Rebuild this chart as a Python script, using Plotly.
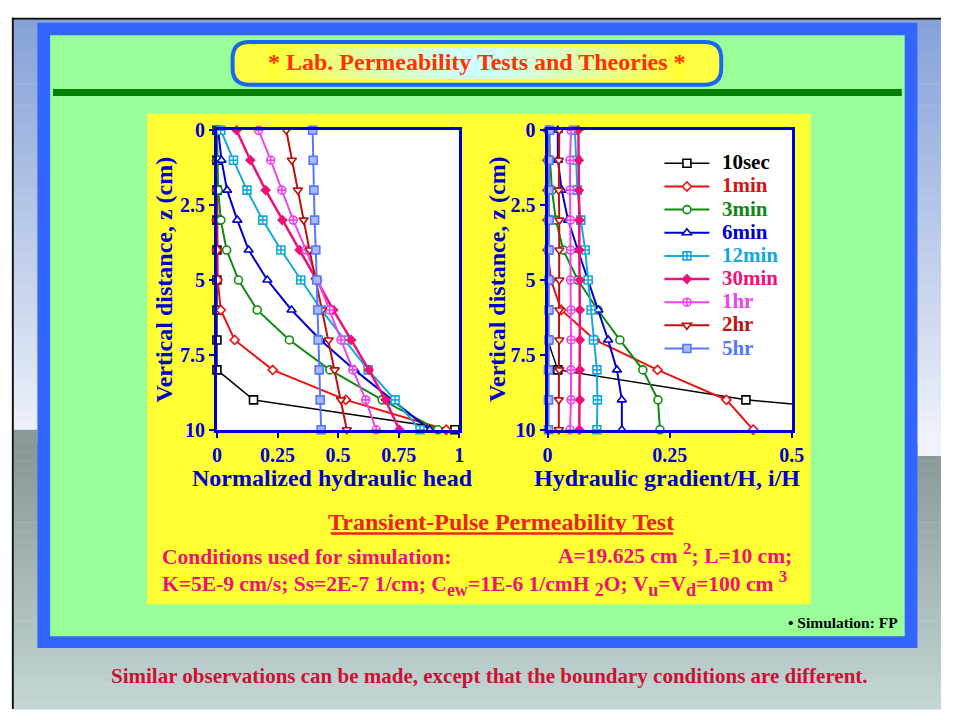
import plotly.graph_objects as go

W, H = 954, 720
SERIF = "Liberation Serif, Times New Roman, serif"

# ---------------- data ----------------
depth_z = [0, 1, 2, 3, 4, 5, 6, 7, 8, 9, 10]
series_names = ["10sec", "1min", "3min", "6min", "12min", "30min", "1hr", "2hr", "5hr"]

head_10sec = [0, 0, 0, 0, 0, 0, 0, 0, 0, 0.151, 0.982]
head_1min = [0, 0, 0, 0, 0, 0.003, 0.016, 0.073, 0.23, 0.532, 0.946]
head_3min = [0, 0.002, 0.005, 0.016, 0.04, 0.089, 0.166, 0.299, 0.466, 0.682, 0.912]
head_6min = [0.005, 0.019, 0.042, 0.084, 0.131, 0.208, 0.308, 0.427, 0.568, 0.722, 0.878]
head_12min = [0.016, 0.068, 0.124, 0.189, 0.264, 0.346, 0.431, 0.527, 0.624, 0.735, 0.838]
head_30min = [0.081, 0.138, 0.201, 0.27, 0.341, 0.412, 0.48, 0.554, 0.627, 0.695, 0.753]
head_1hr = [0.172, 0.222, 0.268, 0.315, 0.368, 0.415, 0.465, 0.512, 0.561, 0.614, 0.657]
head_2hr = [0.286, 0.309, 0.334, 0.358, 0.382, 0.408, 0.434, 0.461, 0.486, 0.512, 0.536]
head_5hr = [0.395, 0.397, 0.400, 0.403, 0.408, 0.412, 0.416, 0.418, 0.422, 0.426, 0.430]

grad_10sec = [0, 0, 0, 0, 0, 0, 0, 0, 0.021, 0.406, 1.07]
grad_1min = [0, 0, 0, 0, 0, 0.007, 0.028, 0.097, 0.225, 0.366, 0.421]
grad_3min = [0.003, 0.005, 0.009, 0.017, 0.032, 0.062, 0.103, 0.148, 0.195, 0.226, 0.230]
grad_6min = [0.021, 0.021, 0.029, 0.042, 0.062, 0.083, 0.104, 0.124, 0.142, 0.152, 0.152]
grad_12min = [0.056, 0.059, 0.061, 0.068, 0.077, 0.083, 0.089, 0.094, 0.101, 0.102, 0.101]
grad_30min = [0.063, 0.064, 0.064, 0.065, 0.065, 0.066, 0.066, 0.066, 0.066, 0.066, 0.065]
grad_1hr = [0.048, 0.046, 0.046, 0.047, 0.047, 0.047, 0.048, 0.048, 0.048, 0.048, 0.046]
grad_2hr = [0.024, 0.023, 0.023, 0.024, 0.024, 0.024, 0.024, 0.024, 0.024, 0.023, 0.023]
grad_5hr = [0.004, 0.003, 0.003, 0.003, 0.003, 0.003, 0.003, 0.003, 0.002, 0.002, 0.002]

head_series = [head_10sec, head_1min, head_3min, head_6min, head_12min,
               head_30min, head_1hr, head_2hr, head_5hr]
grad_series = [grad_10sec, grad_1min, grad_3min, grad_6min, grad_12min,
               grad_30min, grad_1hr, grad_2hr, grad_5hr]

head_ticks = [0, 0.25, 0.5, 0.75, 1]
head_ticklabels = ["0", "0.25", "0.5", "0.75", "1"]
grad_ticks = [0, 0.25, 0.5]
grad_ticklabels = ["0", "0.25", "0.5"]
z_ticks = [0, 2.5, 5, 7.5, 10]
z_ticklabels = ["0", "2.5", "5", "7.5", "10"]

# ---------------- styles ----------------
line_colors = ["#000000", "#ee1111", "#108a10", "#0000cc", "#16a8dc",
               "#ee1177", "#ee44ee", "#bb1111", "#5577ff"]
text_colors = ["#000000", "#dd1111", "#118811", "#0000cc", "#16a8dc",
               "#ee1177", "#ee44ee", "#bb1111", "#5577ff"]
symbols = ["square", "diamond", "circle", "triangle-up", "square-cross",
           "diamond", "circle-cross", "triangle-down", "square"]
fills = ["white", "white", "white", "white", "white",
         "#ee1177", "white", "white", "#a9b9ff"]
msizes = [8, 7, 8, 8, 8, 6.5, 8, 8, 8]
widths = [1.5, 2, 2, 2, 2, 2.5, 2, 2, 2]


def X(p):
    return p / W


def Y(p):
    return 1 - p / H


def hexrgb(h):
    h = h.lstrip("#")
    return tuple(int(h[i:i + 2], 16) for i in (0, 2, 4))


def mix(c1, c2, t):
    a, b = hexrgb(c1), hexrgb(c2)
    return "rgb(%d,%d,%d)" % tuple(round(a[i] + (b[i] - a[i]) * t) for i in range(3))


def rect(x0, y0, x1, y1, color, line_color=None, lw=0):
    return dict(type="rect", xref="paper", yref="paper", layer="below",
                x0=X(x0), x1=X(x1), y0=Y(y1), y1=Y(y0),
                fillcolor=color, line=dict(width=lw, color=line_color or color))


shapes = []
# slide background gradients
n = 40
for i in range(n):
    y0 = 9 + (445 - 9) * i / n
    y1 = 9 + (445 - 9) * (i + 1) / n + 0.5
    shapes.append(rect(9, y0, W, y1, mix("#86a2d8", "#eef2fa", i / (n - 1))))
n = 30
for i in range(n):
    y0 = 445 + (H - 445) * i / n
    y1 = 445 + (H - 445) * (i + 1) / n + 0.5
    shapes.append(rect(9, y0, W, y1, mix("#889898", "#c2d6d6", i / (n - 1))))
shapes.append(rect(9, 432, 33, 446, "#8a9a9a"))
shapes.append(rect(930, 444, W, 459, "#eef2fa"))
shapes.append(rect(7, 7, W, 9, "#111111"))
shapes.append(rect(7, 7, 9, H, "#111111"))
# frames
shapes.append(rect(33, 12, 930, 657, "#3366ff"))
shapes.append(rect(46, 25, 917, 645, "#99ff99"))
shapes.append(dict(type="line", xref="paper", yref="paper", layer="below",
                   x0=X(49), x1=X(914), y0=Y(84), y1=Y(84),
                   line=dict(color="#008000", width=7)))
# banner
bx0, by0, bx1, by1, r = 232, 32, 730, 76, 17
pts = lambda x, y: "%.5f,%.5f" % (X(x), Y(y))
path = ("M" + pts(bx0 + r, by0) + " L" + pts(bx1 - r, by0) +
        " Q" + pts(bx1, by0) + " " + pts(bx1, by0 + r) +
        " L" + pts(bx1, by1 - r) + " Q" + pts(bx1, by1) + " " + pts(bx1 - r, by1) +
        " L" + pts(bx0 + r, by1) + " Q" + pts(bx0, by1) + " " + pts(bx0, by1 - r) +
        " L" + pts(bx0, by0 + r) + " Q" + pts(bx0, by0) + " " + pts(bx0 + r, by0) + " Z")
shapes.append(dict(type="path", xref="paper", yref="paper", layer="below", path=path,
                   fillcolor="#ffff44", line=dict(color="#1a66ee", width=4)))
n = 50
gx0, gx1 = 268, 694
for i in range(n):
    t = i / (n - 1)
    d = abs(t - 0.5) * 2  # 0 center, 1 edge
    c = mix("#ccffff", "#ffff33", min(1, d ** 1.3))
    xa = gx0 + (gx1 - gx0) * i / n
    xb = gx0 + (gx1 - gx0) * (i + 1) / n + 0.5
    shapes.append(rect(xa, 38, xb, 70, c))
# yellow panel and plot backgrounds
shapes.append(rect(145, 106, 821, 612, "#ffff33"))
shapes.append(rect(216, 123, 463, 432, "white"))
shapes.append(rect(553, 123, 802, 432, "white"))
# underline of sub-title
shapes.append(dict(type="line", xref="paper", yref="paper", layer="below",
                   x0=X(332), x1=X(681), y0=Y(539), y1=Y(539),
                   line=dict(color="#ee2222", width=2.5)))

fig = go.Figure()
for i, name in enumerate(series_names):
    marker = dict(symbol=symbols[i], size=msizes[i], color=fills[i],
                  line=dict(color=line_colors[i], width=1.6))
    label = ("<span style='font-size:30px'>\u00a0</span>"
             "<span style='font-size:21px;color:%s'>%s</span>" % (text_colors[i], name))
    fig.add_trace(go.Scatter(x=head_series[i], y=depth_z, mode="lines+markers",
                             name=label, line=dict(color=line_colors[i], width=widths[i]),
                             marker=marker, cliponaxis=False, xaxis="x", yaxis="y",
                             legendgroup=name))
    fig.add_trace(go.Scatter(x=grad_series[i], y=depth_z, mode="lines+markers",
                             name=label, line=dict(color=line_colors[i], width=widths[i]),
                             marker=marker, cliponaxis=(i == 0), xaxis="x2", yaxis="y2",
                             legendgroup=name, showlegend=False))

axis_blue = "#0000cc"
tickfont = dict(family=SERIF, size=20, color=axis_blue, weight="bold")
common = dict(showline=True, mirror=True, linecolor=axis_blue, linewidth=3,
              showgrid=False, zeroline=False, ticks="outside", ticklen=5,
              tickwidth=1.5, tickcolor=axis_blue, tickfont=tickfont)

fig.update_layout(
    width=W, height=H, autosize=False,
    margin=dict(l=0, r=0, t=0, b=0),
    paper_bgcolor="white", plot_bgcolor="white",
    font=dict(family=SERIF, weight="bold"),
    shapes=shapes,
    xaxis=dict(domain=[X(216), X(463)], range=[0, 1], tickvals=head_ticks,
               ticktext=head_ticklabels, anchor="y", **common),
    yaxis=dict(domain=[Y(432), Y(123)], range=[10, 0], tickvals=z_ticks,
               ticktext=z_ticklabels, anchor="x", **common),
    xaxis2=dict(domain=[X(553), X(802)], range=[0, 0.5], tickvals=grad_ticks,
                ticktext=grad_ticklabels, anchor="y2", **common),
    yaxis2=dict(domain=[Y(432), Y(123)], range=[10, 0], tickvals=z_ticks,
                ticktext=z_ticklabels, anchor="x2", **common),
    showlegend=True,
    legend=dict(x=X(667), y=Y(140), xanchor="left", yanchor="top",
                bgcolor="rgba(0,0,0,0)", borderwidth=0, itemwidth=45,
                font=dict(family=SERIF, size=15.5, weight="bold"),
                traceorder="normal", itemclick=False, itemdoubleclick=False),
)


def note(x, y, text, size, color, xanchor="center", textangle=0):
    fig.add_annotation(xref="paper", yref="paper", x=X(x), y=Y(y), text=text,
                       showarrow=False, xanchor=xanchor, yanchor="middle",
                       textangle=textangle,
                       font=dict(family=SERIF, size=size, color=color, weight="bold"))


def sup(t):
    return "<sup><span style='font-size:17px'>%s</span></sup>" % t


def sub(t):
    return "<sub><span style='font-size:18px'>%s</span></sub>" % t


note(481, 53, "* Lab. Permeability Tests and Theories *", 24, "#ff3300")
note(334, 482, "Normalized hydraulic head", 24, axis_blue)
note(675, 482, "Hydraulic gradient/H, i/H", 24, axis_blue)
note(162, 277, "Vertical distance, z (cm)", 24, axis_blue, textangle=-90)
note(501, 277, "Vertical distance, z (cm)", 24, axis_blue, textangle=-90)
note(506, 527, "Transient-Pulse Permeability Test", 24, "#ee2222")
pink = "#ee1177"
note(158, 563, "Conditions used for simulation:", 21.5, pink, xanchor="left")
note(562, 560, "A=19.625 cm " + sup("2") + "; L=10 cm;", 21.5, pink, xanchor="left")
note(158, 591, "K=5E-9 cm/s; Ss=2E-7 1/cm; C" + sub("ew") + "=1E-6 1/cmH " + sub("2") +
     "O; V" + sub("u") + "=V" + sub("d") + "=100 cm " + sup("3"), 21.5, pink, xanchor="left")
note(912, 631, "• Simulation: FP", 15.5, "#000000", xanchor="right")
note(494, 686, "Similar observations can be made, except that the boundary conditions are different.",
     21, "#cc1133")

fig.write_html(
    "out.html",
    config={"displayModeBar": False},
    post_script=("var d=document.getElementById('{plot_id}');"
                 "d.style.position='fixed';d.style.left='0px';d.style.top='0px';"
                 "document.body.style.margin='0px';"
                 "document.documentElement.style.overflow='hidden';"
                 "document.body.style.overflow='hidden';"),
)
